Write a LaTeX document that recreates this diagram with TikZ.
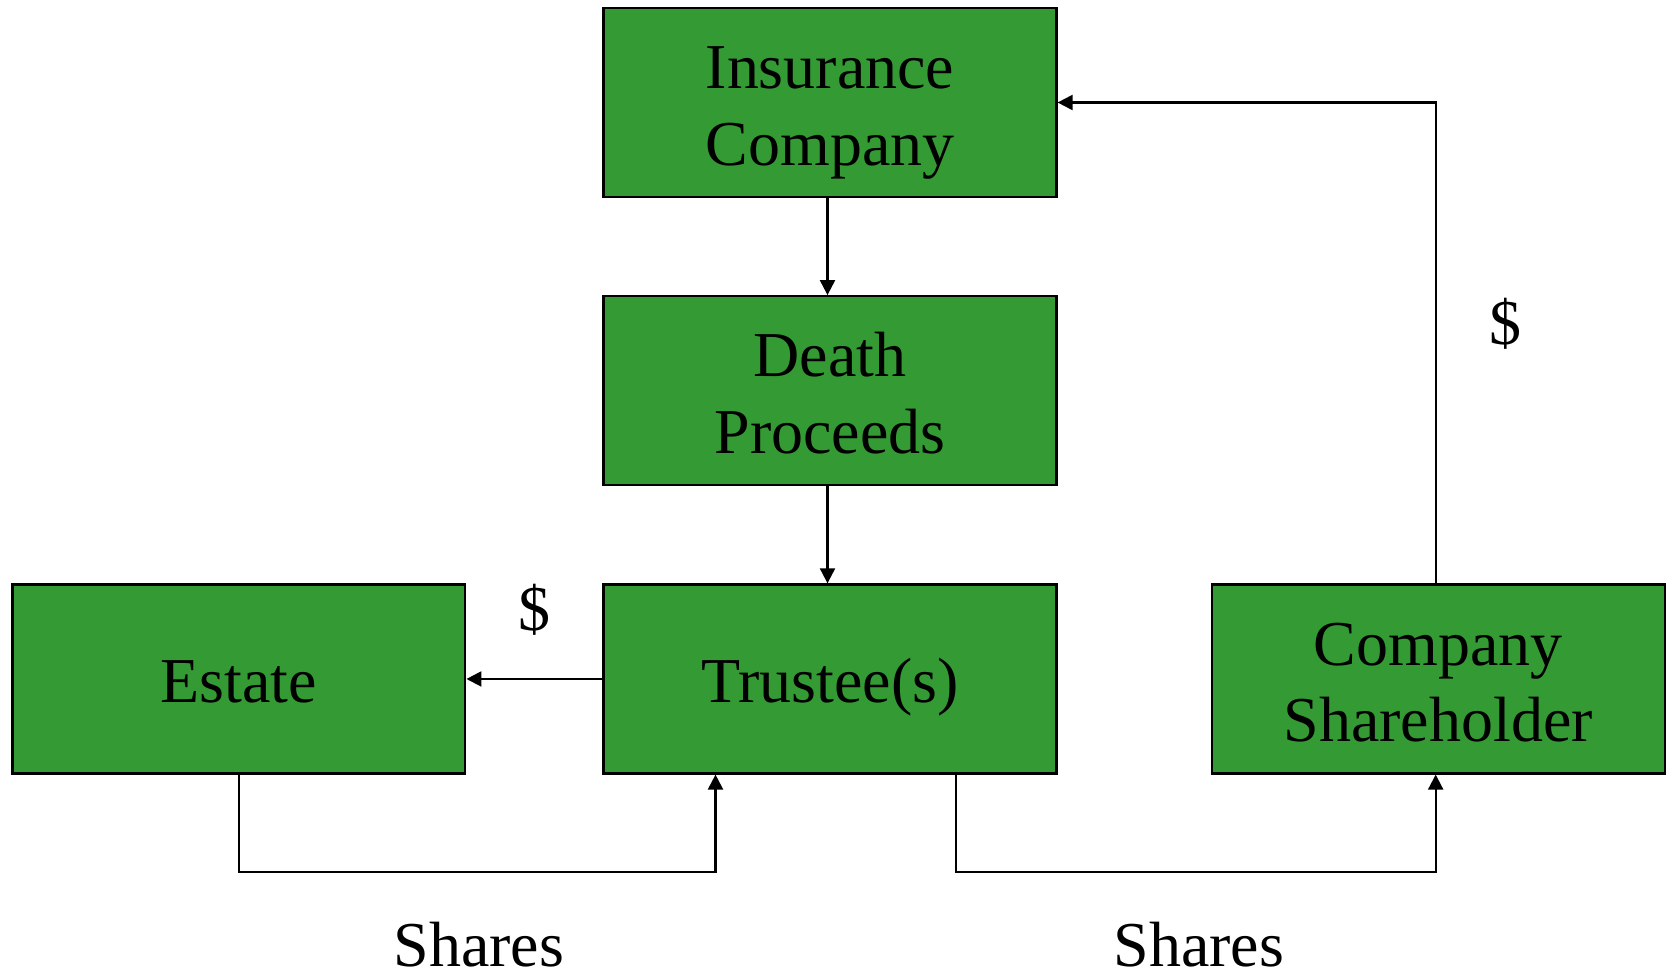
\documentclass[tikz,border=0pt]{standalone}
\usepackage{fontspec}
\setmainfont{Liberation Serif}
\usetikzlibrary{positioning}
\usetikzlibrary{arrows.meta}
\definecolor{boxgreen}{RGB}{52,154,52}
\newcommand{\twolines}[2]{\rule{0pt}{1.3cm}#1\\#2\rule[-0.326cm]{0pt}{0.326cm}}
\tikzset{
    mybox/.style = {rectangle, draw=black, line width=1.3pt, fill=boxgreen, align=center, minimum width=9.06cm, minimum height=3.78cm, inner sep=0pt, text=black},
    myboxa/.style = {mybox, text height=1cm, text depth=0.052cm}, % one line
    edgea/.style = {-{Triangle[length=0.3cm,width=0.3cm]}, line width=1.2pt, black}, % with head
    edgen/.style = {-, line width=1.2pt, black}, % plain
    mytext/.style = {text=black}
}

\begin{document}
\begin{tikzpicture}[
  x=0.02cm, y=-0.02cm,
  node distance=1.94cm,
  font=\fontsize{36.4}{43.6}\selectfont]
  \useasboundingbox (0,0) rectangle (1669,974);
  \node[mybox] (ins) at (830,102.5) {\twolines{Insurance}{Company}};
  \node[mybox, below=of ins] (death) {\twolines{Death}{Proceeds}};
  \node[myboxa, below=of death] (trust) {Trustee(s)};
  \node[myboxa, left=2.72cm of trust] (estate) {Estate};
  \node[mybox, right=3.06cm of trust] (share) {\twolines{Company}{Shareholder}};
  \coordinate (c1) at (715.5,872);
  \coordinate (c2) at (956,872);
  \draw[edgea] ([xshift=-0.05cm]ins.south) -- ([xshift=-0.05cm]death.north);
  \draw[edgea] ([xshift=-0.05cm]death.south) -- ([xshift=-0.05cm]trust.north);
  \draw[edgea] (trust) -- node[mytext, yshift=1.38cm] (d1) {\$} (estate);
  \draw[edgea] ([xshift=-0.05cm]share.north) |- node[mytext, pos=0.27, xshift=1.4cm] (d2) {\$} (ins.east);
  \draw[edgea] (estate.south) |- (c1) -- (c1 |- trust.south);
  \draw[edgea] (c2 |- trust.south) -- (c2) -| ([xshift=-0.05cm]share.south);
  \node[mytext] (sh1) at (479,945) {Shares};
  \node[mytext] (sh2) at (1199,945) {Shares};
\end{tikzpicture}
\end{document}
